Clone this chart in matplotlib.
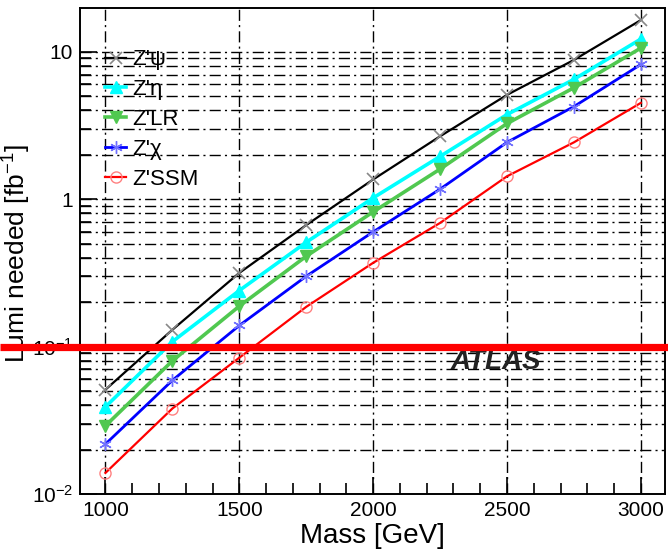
import matplotlib
matplotlib.use("Agg")
import matplotlib.pyplot as plt
import matplotlib.transforms as mtransforms
from matplotlib.ticker import FixedLocator, LogLocator, NullFormatter, FuncFormatter

plt.rcParams['font.family'] = ['Liberation Sans', 'DejaVu Sans']
plt.rcParams['mathtext.fontset'] = 'custom'
plt.rcParams['mathtext.rm'] = 'Liberation Sans'
plt.rcParams['mathtext.it'] = 'Liberation Sans:italic'

# masses [GeV]
mass = [1000, 1250, 1500, 1750, 2000, 2250, 2500, 2750, 3000]

# luminosity needed [fb^-1]
lumi_psi = [0.051, 0.130, 0.316, 0.667, 1.36, 2.67, 5.1, 8.8, 16.4]
lumi_eta = [0.039, 0.108, 0.240, 0.510, 1.02, 1.95, 3.75, 6.5, 12.2]
lumi_lr = [0.029, 0.080, 0.188, 0.410, 0.82, 1.60, 3.26, 5.7, 10.6]
lumi_chi = [0.0218, 0.059, 0.139, 0.300, 0.60, 1.17, 2.43, 4.25, 8.2]
lumi_ssm = [0.0139, 0.038, 0.084, 0.186, 0.37, 0.69, 1.43, 2.43, 4.5]

lumi_line = 0.1

fig = plt.figure(figsize=(6.68, 5.5), dpi=100)
ax = fig.add_axes([80/668, 56/550, 585/668, 486/550])

grid_style = dict(color='black', linewidth=1.0, linestyle=(0, (8, 3, 1.5, 3)))

ax.plot(mass, lumi_psi, color='black', lw=1.6, marker='x', ms=8,
        mec='#888888', mew=1.2, label="Z'\u03c8", zorder=5)
ax.plot(mass, lumi_eta, color='#00ffff', lw=2.6, marker='^', ms=8,
        mfc='#00ffff', mec='#00ffff', label="Z'\u03b7", zorder=5)
ax.plot(mass, lumi_lr, color='#50c850', lw=2.6, marker='v', ms=8,
        mfc='#50c850', mec='#50c850', label="Z'LR", zorder=5)
ax.plot(mass, lumi_chi, color='#0000ff', lw=2.0, marker=(6, 2, 0), ms=9,
        mec='#7070ff', mew=1.0, label="Z'\u03c7", zorder=5)
ax.plot(mass, lumi_ssm, color='#ff0000', lw=1.6, marker='o', ms=8,
        mfc='none', mec='#ff8080', mew=1.0, label="Z'SSM", zorder=5)

ax.text(2457, 0.079, 'ATLAS', fontsize=20, fontweight='bold', style='italic',
        color='#222222', ha='center', va='center', zorder=4)

# horizontal line across the whole figure
trans = mtransforms.blended_transform_factory(fig.transFigure, ax.transData)
ax.plot([0, 1], [lumi_line, lumi_line], color='#ff0000', lw=5.2,
        transform=trans, clip_on=False, zorder=6, solid_capstyle='butt')

ax.set_yscale('log')
ax.set_xlim(905, 3090)
ax.set_ylim(0.01, 19.8)

ax.xaxis.set_major_locator(FixedLocator([1000, 1500, 2000, 2500, 3000]))
ax.xaxis.set_minor_locator(FixedLocator(range(1000, 3001, 100)))
ax.yaxis.set_major_locator(LogLocator(base=10))
ax.yaxis.set_minor_locator(LogLocator(base=10, subs=range(2, 10)))
ax.yaxis.set_minor_formatter(NullFormatter())

ylabels = {0.01: '$10^{-2}$', 0.1: '$10^{-1}$', 1.0: '1', 10.0: '10'}
ax.yaxis.set_major_formatter(FuncFormatter(
    lambda v, p: min(ylabels.items(), key=lambda kv: abs(kv[0] - v))[1]))

ax.grid(which='major', axis='x', **grid_style)
ax.grid(which='both', axis='y', **grid_style)
ax.set_axisbelow(True)

ax.tick_params(which='both', direction='in', labelsize=15, width=1.2)
ax.tick_params(which='major', length=12, pad=5)
ax.tick_params(which='minor', length=8)
for s in ax.spines.values():
    s.set_linewidth(1.4)

ax.set_xlabel('Mass [GeV]', fontsize=20, labelpad=2)
ax.set_ylabel('Lumi needed [fb$^{-1}$]', fontsize=19)
ax.yaxis.set_label_coords(-0.08, 0.495)

leg = ax.legend(loc='upper left', bbox_to_anchor=(0.043, 0.915), frameon=False,
                fontsize=16, handlelength=0.95, handletextpad=0.25,
                labelspacing=0.4, borderpad=0, borderaxespad=0)

fig.savefig('out.png', dpi=100)
